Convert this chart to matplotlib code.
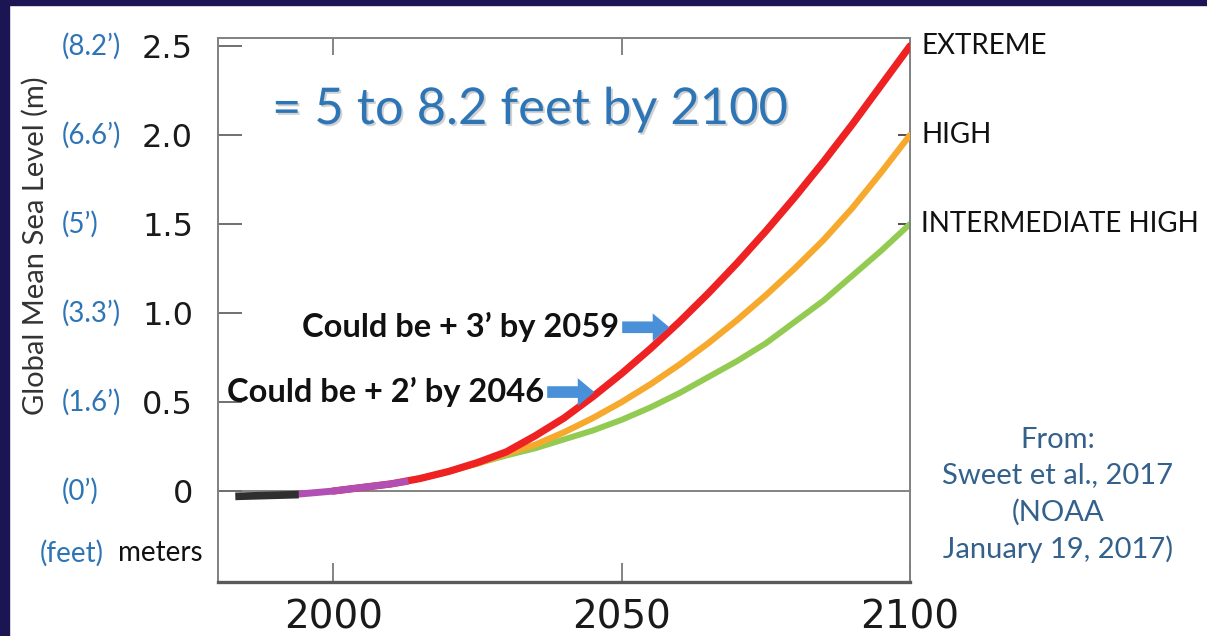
import matplotlib
matplotlib.use("Agg")
import numpy as np
import matplotlib.pyplot as plt
import matplotlib.patheffects as pe
from matplotlib import transforms
from matplotlib.patches import Rectangle

# ---- data -------------------------------------------------------------
scenario_years = [2000, 2005, 2010, 2015, 2020, 2025, 2030, 2035, 2040, 2045, 2050,
                  2055, 2060, 2065, 2070, 2075, 2080, 2085, 2090, 2095, 2100]
extreme = [0.00, 0.02, 0.04, 0.07, 0.11, 0.16, 0.22, 0.31, 0.41, 0.53, 0.66,
           0.80, 0.95, 1.11, 1.28, 1.46, 1.65, 1.85, 2.06, 2.28, 2.50]
high = [0.00, 0.02, 0.04, 0.07, 0.11, 0.155, 0.21, 0.26, 0.33, 0.41, 0.50,
        0.60, 0.71, 0.83, 0.96, 1.10, 1.25, 1.41, 1.59, 1.79, 2.00]
intermediate_high = [0.00, 0.02, 0.04, 0.07, 0.11, 0.155, 0.20, 0.24, 0.29, 0.34, 0.40,
                     0.47, 0.55, 0.64, 0.73, 0.83, 0.95, 1.07, 1.21, 1.35, 1.50]
scenario_names = ["EXTREME", "HIGH", "INTERMEDIATE HIGH"]

tide_gauge_years = [1983, 1994]
tide_gauge_level = [-0.03, -0.02]
satellite_years = [1993, 2000, 2005, 2010, 2013]
satellite_level = [-0.02, 0.00, 0.02, 0.04, 0.055]

meter_ticks = [0, 0.5, 1.0, 1.5, 2.0, 2.5]
meter_labels = ["0", "0.5", "1.0", "1.5", "2.0", "2.5"]
feet_labels = ["(0\u2019)", "(1.6\u2019)", "(3.3\u2019)", "(5\u2019)", "(6.6\u2019)", "(8.2\u2019)"]
year_ticks = [2000, 2050, 2100]

callout_years = [2059, 2046]
callout_feet = [3, 2]

# ---- style ------------------------------------------------------------
W, H = 1207, 636
NAVY = "#1b1553"
BLUE = "#2e75b6"
SOURCE_BLUE = "#34618c"
ARROW_BLUE = "#4a90d9"
RED, ORANGE, GREEN = "#ee2222", "#f6a92c", "#93cb52"
CALIBRI_LIKE = ["Lato", "DejaVu Sans"]

fig = plt.figure(figsize=(W / 100, H / 100), dpi=100, facecolor="white")

# dark frame along the left and top edges
fig.patches.append(Rectangle((0, 0), 9 / W, 1, transform=fig.transFigure,
                             color=NAVY, zorder=0))
fig.patches.append(Rectangle((0, 1 - 5 / H), 1, 5 / H, transform=fig.transFigure,
                             color=NAVY, zorder=0))

ax_l, ax_r, ax_t, ax_b = 218, 910, 38, 582
ax = fig.add_axes([ax_l / W, 1 - ax_b / H, (ax_r - ax_l) / W, (ax_b - ax_t) / H])
ax.set_xlim(1980, 2100)
ax.set_ylim(-0.511, 2.545)

for side in ["left", "right", "top"]:
    ax.spines[side].set_color("#808080")
    ax.spines[side].set_linewidth(1.4)
ax.spines["bottom"].set_color("#5a5a5a")
ax.spines["bottom"].set_linewidth(2.4)

ax.axhline(0, color="#7a7a7a", lw=1.3, zorder=1)

# scenario curves
ax.plot(scenario_years, intermediate_high, color=GREEN, lw=4.3,
        solid_capstyle="round", solid_joinstyle="round", zorder=2)
ax.plot(scenario_years, high, color=ORANGE, lw=4.5,
        solid_capstyle="round", solid_joinstyle="round", zorder=3)
ax.plot(scenario_years, extreme, color=RED, lw=5.2,
        solid_capstyle="round", solid_joinstyle="round", zorder=4)
# observations
ax.plot(satellite_years, satellite_level, color="#b24fb5", lw=5.0,
        solid_capstyle="butt", zorder=5)
ax.plot(tide_gauge_years, tide_gauge_level, color="#2f2f2f", lw=5.5,
        solid_capstyle="butt", zorder=6)

# y axis (meters)
ax.set_yticks(meter_ticks)
ax.set_yticklabels(meter_labels, fontsize=23, family="DejaVu Sans", color="#1a1a1a")
ax.tick_params(axis="y", direction="in", length=17, width=1.4, color="#707070", pad=18)

# x axis (years)
ax.set_xticks(year_ticks)
ax.set_xticklabels([str(y) for y in year_ticks], fontsize=28,
                   family="DejaVu Sans", color="#1a1a1a")
ax.tick_params(axis="x", direction="in", length=14, width=1.2, color="#707070", pad=12)

# short inner ticks along the top and right frame
top = ax.secondary_xaxis("top")
top.set_xticks(year_ticks[:2])
top.set_xticklabels([])
top.tick_params(direction="in", length=12, width=1.2, color="#707070")
top.spines["top"].set_visible(False)
right = ax.secondary_yaxis("right")
right.set_yticks(meter_ticks[3:5])
right.set_yticklabels([])
right.tick_params(direction="in", length=9, width=1.4, color="#505050")
right.spines["right"].set_visible(False)

# feet equivalents beside the meter labels
feet_tf = transforms.blended_transform_factory(fig.transFigure, ax.transData)
for v, lab in zip(meter_ticks, feet_labels):
    fig.text(62 / W, v, lab, transform=feet_tf, ha="left", va="center",
             fontsize=20, color=BLUE, family=CALIBRI_LIKE)

fig.text(40 / W, 1 - 553 / H, "(feet)", ha="left", va="center",
         fontsize=20, color=BLUE, family=CALIBRI_LIKE)
fig.text(118 / W, 1 - 553 / H, "meters", ha="left", va="center",
         fontsize=20, color="#111111", family=CALIBRI_LIKE)

fig.text(35 / W, 1 - 246 / H, "Global Mean Sea Level (m)", rotation=90,
         ha="center", va="center", fontsize=21, color="#333333",
         family=CALIBRI_LIKE)

# headline
ax.text(272 / W, 1 - 110 / H, "= 5 to 8.2 feet by 2100", transform=fig.transFigure,
        ha="left", va="center", fontsize=36.5, color=BLUE, family=CALIBRI_LIKE,
        path_effects=[pe.withSimplePatchShadow(offset=(1.4, -1.4),
                                               shadow_rgbFace="#9a9a9a", alpha=0.45)])

# scenario names at the end of each curve
for series, name in zip([extreme, high, intermediate_high], scenario_names):
    ax.annotate(name, xy=(scenario_years[-1], series[-1]), xytext=(8, 0),
                textcoords="offset points", ha="left", va="center",
                fontsize=20, color="#111111", family=CALIBRI_LIKE,
                annotation_clip=False)

# call-outs pointing at the extreme curve
for yr, ft in zip(callout_years, callout_feet):
    level = np.interp(yr, scenario_years, extreme)
    ax.annotate("", xy=(yr, level), xytext=(-37, 0), textcoords="offset points",
                arrowprops=dict(arrowstyle="simple,head_length=0.6,head_width=1.0,tail_width=0.42",
                                mutation_scale=20, color=ARROW_BLUE, lw=0,
                                shrinkA=0, shrinkB=3), zorder=7)
    ax.annotate(f"Could be + {ft}\u2019 by {yr}", xy=(yr, level), xytext=(-39, 0),
                textcoords="offset points", ha="right", va="center",
                fontsize=23.5, fontweight="bold", color="#111111",
                family=CALIBRI_LIKE, zorder=7)

# source note
fig.text(1058 / W, 1 - 495 / H, "From:\nSweet et al., 2017\n(NOAA\nJanuary 19, 2017)",
         ha="center", va="center", fontsize=21, color=SOURCE_BLUE,
         family=CALIBRI_LIKE, linespacing=1.46)

fig.savefig("out.png", dpi=100, facecolor="white")
